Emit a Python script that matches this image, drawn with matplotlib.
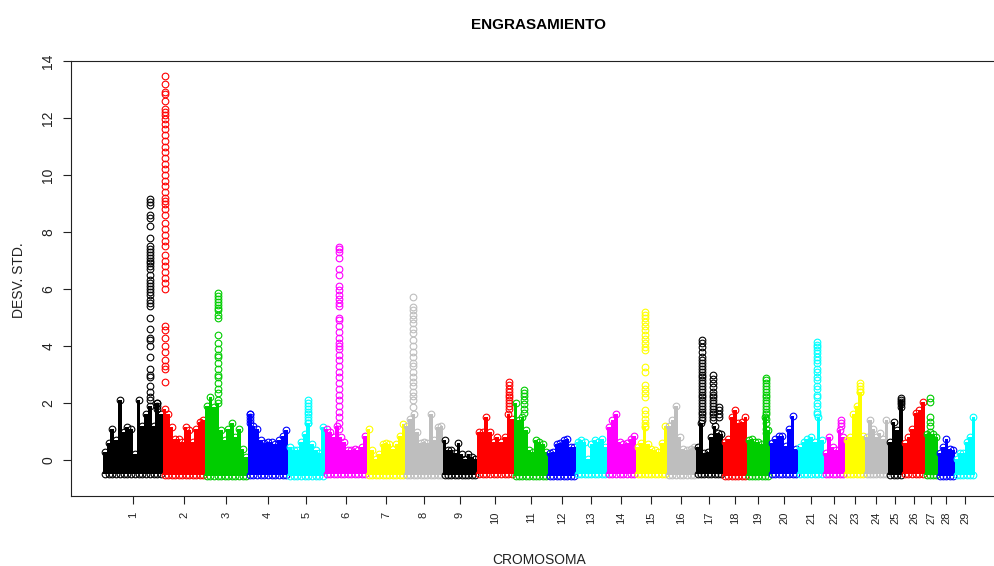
import numpy as np
import matplotlib
matplotlib.use('Agg')
import matplotlib.pyplot as plt

plt.rcParams['font.family'] = ['Liberation Sans', 'DejaVu Sans']

# chromosome sizes (number of markers, same units as the x axis)
chrom_len = [60, 42, 43, 40, 37, 42, 38, 38, 34, 37, 34, 28, 31, 29, 31,
             29, 27, 24, 23, 28, 26, 21, 20, 23, 15, 22, 13, 17, 20]
chrom_names = [str(i) for i in range(1, 30)]

# upper edge of the dense band of points, left to right within each chromosome
chrom_top = [
    [0.3, 0.6, 1.1, 0.7, 2.1, 1.0, 1.15, 1.1, 0.2, 2.1, 1.2, 1.6, 1.9, 1.2, 2.0, 1.6],
    [1.8, 1.6, 1.15, 0.75, 0.75, 0.65, 1.15, 1.05, 0.65, 1.1, 1.35, 1.4],
    [1.9, 2.2, 1.85, 2.0, 1.05, 0.7, 1.1, 1.3, 0.8, 1.1, 0.4, 0.1],
    [1.6, 1.2, 1.1, 0.7, 0.6, 0.65, 0.65, 0.55, 0.7, 0.85, 1.05],
    [0.45, 0.35, 0.35, 0.65, 0.9, 1.3, 0.55, 0.35, 0.25, 1.15],
    [1.1, 1.0, 0.8, 1.2, 0.8, 0.65, 0.35, 0.35, 0.4, 0.35, 0.45, 0.85],
    [1.1, 0.35, 0.05, 0.2, 0.55, 0.6, 0.55, 0.4, 0.55, 0.85, 1.25],
    [1.2, 1.45, 1.6, 1.0, 0.6, 0.65, 0.6, 1.6, 0.7, 1.15, 1.2],
    [0.7, 0.35, 0.35, 0.25, 0.6, 0.2, 0.05, 0.2, 0.1, 0.05],
    [1.0, 1.0, 1.5, 1.0, 0.65, 0.8, 0.65, 0.8, 1.6, 1.45],
    [2.0, 1.4, 1.5, 1.05, 0.35, 0.3, 0.7, 0.65, 0.55, 0.3],
    [0.25, 0.3, 0.55, 0.6, 0.7, 0.75, 0.45, 0.45],
    [0.65, 0.7, 0.65, 0.05, 0.55, 0.7, 0.65, 0.75, 0.45],
    [1.15, 1.4, 1.6, 0.65, 0.55, 0.6, 0.75, 0.85],
    [0.45, 0.6, 1.2, 0.55, 0.4, 0.35, 0.3, 0.6, 1.2],
    [1.2, 1.4, 1.9, 0.8, 0.4, 0.35, 0.4, 0.45],
    [0.45, 1.3, 0.25, 0.3, 0.8, 1.2, 0.95, 0.9],
    [0.65, 0.75, 1.5, 1.75, 1.3, 1.35, 1.5],
    [0.7, 0.75, 0.63, 0.63, 0.58, 1.5, 1.05],
    [0.6, 0.75, 0.85, 0.85, 0.5, 1.1, 1.55, 0.4],
    [0.45, 0.65, 0.75, 0.8, 0.65, 1.5, 0.7],
    [0.25, 0.8, 0.45, 0.35, 1.05, 0.8],
    [0.7, 0.8, 1.6, 1.9, 2.4, 0.85],
    [0.8, 1.4, 1.1, 0.8, 0.95, 0.75, 1.4],
    [0.65, 1.35, 1.05, 2.1],
    [0.6, 0.8, 1.1, 1.65, 1.75, 2.05],
    [0.9, 1.0, 0.9, 0.8],
    [0.25, 0.45, 0.75, 0.4, 0.35],
    [0.05, 0.25, 0.25, 0.65, 0.8, 1.5],
]

# lower edge of the band
chrom_low = [-0.5, -0.52, -0.55, -0.52, -0.55, -0.5, -0.52, -0.52, -0.52, -0.5,
             -0.55, -0.55, -0.5, -0.5, -0.5, -0.52, -0.5, -0.55, -0.55, -0.5,
             -0.5, -0.5, -0.5, -0.5, -0.52, -0.5, -0.52, -0.55, -0.52]

# isolated markers standing above the band: chromosome, position inside it, values
peak_chrom = [1, 1, 2, 3, 4, 5, 6, 8, 10, 11, 15, 17, 17, 17, 19, 21, 22, 23, 25, 27]
peak_pos = [47, 54, 2.5, 12.7, 2, 20, 14, 8, 32, 10, 9.5, 5.7, 17, 23, 19.5, 19, 17, 15, 13.5, 5]
peak_vals = [
    [9.16, 9.05, 8.95, 8.6, 8.5, 8.2, 7.8, 7.5, 7.4, 7.3, 7.2, 7.1, 7.0, 6.9, 6.8, 6.7,
     6.5, 6.3, 6.2, 6.1, 6.0, 5.9, 5.8, 5.6, 5.5, 5.4, 5.0, 4.6, 4.3, 4.2, 4.0, 3.6,
     3.2, 3.0, 2.9, 2.6, 2.4, 2.2, 2.1],
    [2.0, 1.9, 1.8],
    [13.47, 13.2, 12.9, 12.85, 12.6, 12.3, 12.2, 12.1, 11.95, 11.8, 11.6, 11.4, 11.2,
     11.0, 10.8, 10.6, 10.4, 10.2, 10.0, 9.8, 9.6, 9.4, 9.2, 9.1, 9.0, 8.8, 8.6, 8.3,
     8.1, 7.9, 7.7, 7.5, 7.2, 7.0, 6.8, 6.6, 6.4, 6.2, 6.0, 4.7, 4.55, 4.3, 4.0, 3.8,
     3.5, 3.3, 3.2, 2.75],
    [5.86, 5.75, 5.65, 5.55, 5.45, 5.35, 5.25, 5.1, 5.0, 4.4, 4.1, 3.9, 3.7, 3.6, 3.4,
     3.2, 3.0, 2.9, 2.7, 2.5, 2.35, 2.1],
    [1.6, 1.5, 1.4, 1.3],
    [2.1, 2.0, 1.9, 1.8, 1.7, 1.6, 1.5, 1.4, 1.3],
    [7.48, 7.4, 7.3, 7.1, 6.7, 6.5, 6.1, 5.95, 5.8, 5.65, 5.5, 5.4, 5.0, 4.9, 4.7, 4.5,
     4.3, 4.1, 4.0, 3.9, 3.7, 3.5, 3.3, 3.1, 2.9, 2.7, 2.5, 2.3, 2.1, 1.9, 1.7, 1.5,
     1.3, 1.1],
    [5.73, 5.37, 5.25, 5.1, 4.95, 4.8, 4.6, 4.45, 4.2, 4.0, 3.8, 3.6, 3.4, 3.3, 3.1,
     2.9, 2.75, 2.6, 2.4, 2.25, 2.1, 1.85],
    [2.75, 2.65, 2.5, 2.4, 2.3, 2.2, 2.1, 2.0, 1.9, 1.8],
    [2.45, 2.35, 2.25, 2.1, 1.95, 1.8, 1.65],
    [5.2, 5.1, 5.0, 4.85, 4.7, 4.55, 4.4, 4.25, 4.1, 3.95, 3.85, 3.25, 3.1, 2.65, 2.5,
     2.35, 2.2, 1.75, 1.6, 1.45, 1.3, 1.15],
    [4.21, 4.1, 3.95, 3.8, 3.6, 3.5, 3.4, 3.3, 3.2, 3.1, 3.0, 2.9, 2.8, 2.7, 2.6, 2.5,
     2.4, 2.3, 2.2, 2.1, 2.0, 1.9, 1.8, 1.7, 1.6, 1.5, 1.4],
    [2.98, 2.85, 2.7, 2.55, 2.4, 2.3, 2.2, 2.1, 2.0, 1.9, 1.8, 1.7, 1.6, 1.5, 1.4],
    [1.86, 1.75, 1.6, 1.5],
    [2.87, 2.8, 2.7, 2.6, 2.5, 2.4, 2.3, 2.2, 2.1, 2.0, 1.9, 1.8, 1.7, 1.6, 1.45, 1.3,
     1.1, 0.95],
    [4.15, 4.05, 3.95, 3.85, 3.75, 3.6, 3.5, 3.4, 3.2, 3.1, 2.9, 2.8, 2.6, 2.5, 2.3,
     2.2, 2.0, 1.9, 1.7, 1.6],
    [1.4, 1.3, 1.2],
    [2.72, 2.6, 2.5, 2.4],
    [2.17, 2.05, 1.95, 1.85],
    [2.17, 2.05, 1.5, 1.35, 1.2],
]

palette = ['black', '#FF0000', '#00CD00', '#0000FF', '#00FFFF', '#FF00FF', '#FFFF00', '#BEBEBE']

fig = plt.figure(figsize=(9.95, 5.66), dpi=100)
ax = fig.add_axes([71 / 995, 70 / 566, 936 / 995, 435 / 566])

starts = np.concatenate([[0], np.cumsum(chrom_len)[:-1]])
mk = dict(marker='o', linestyle='none', mfc='none', ms=4.8, mew=0.8)

for i in range(len(chrom_len)):
    col = palette[i % 8]
    tops = np.array(chrom_top[i])
    n = len(tops)
    w = chrom_len[i] / n
    xs = starts[i] + (np.arange(n) + 0.5) * w
    low = chrom_low[i]
    ax.bar(xs, tops - low, bottom=low, width=w, color=col, linewidth=0, zorder=3 * i + 1)
    ax.plot(xs, tops, mec=col, zorder=3 * i + 2, **mk)
    ax.plot(xs, np.full(n, low), mec=col, zorder=3 * i + 2, **mk)
    for c, p, v in zip(peak_chrom, peak_pos, peak_vals):
        if c == i + 1:
            ax.plot(np.full(len(v), starts[i] + p), v, mec=col, zorder=3 * i + 3, **mk)

ax.set_xlim(-32, 904)
ax.set_ylim(-1.26, 14.0)

ax.set_xticks(starts + np.array(chrom_len) / 2)
ax.set_xticklabels(chrom_names, rotation=90, fontsize=8)
ax.set_yticks(np.arange(0, 15, 2))
ax.set_yticklabels([str(v) for v in range(0, 15, 2)], rotation=90, va='center', fontsize=10)
ax.tick_params(length=5.8, width=0.8, pad=5.5, colors='#222222')

for s in ax.spines.values():
    s.set_linewidth(0.8)
    s.set_color('#222222')

fig.text(539 / 995, 1 - 25 / 566, 'ENGRASAMIENTO', ha='center', va='center',
         fontsize=11, fontweight='bold')
fig.text(19 / 995, 1 - 280 / 566, 'DESV. STD.', ha='center', va='center',
         rotation=90, fontsize=10, color='#222222')
fig.text(539 / 995, 1 - 560 / 566, 'CROMOSOMA', ha='center', va='center',
         fontsize=10, color='#222222')

fig.savefig('out.png', dpi=100)
